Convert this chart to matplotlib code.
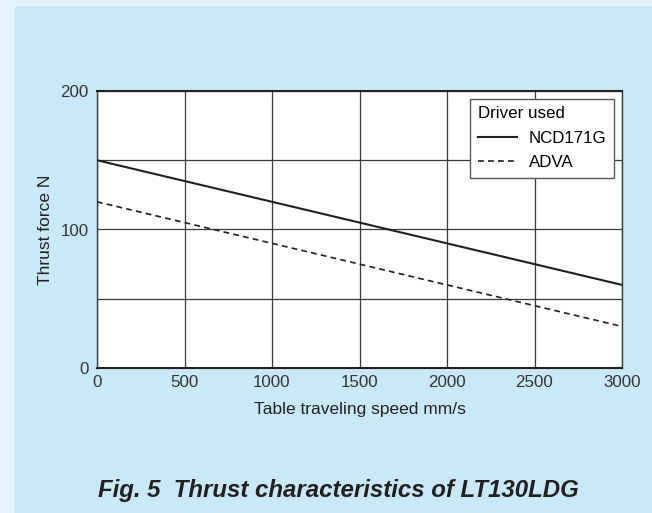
import matplotlib
matplotlib.use("Agg")
import matplotlib.pyplot as plt
from matplotlib.patches import Rectangle

plt.rcParams['font.family'] = ['Liberation Sans', 'DejaVu Sans']

speed = [0, 3000]
ncd171g = [150, 60]
adva = [120, 30]
xticks = [0, 500, 1000, 1500, 2000, 2500, 3000]
yticks = [0, 100, 200]

fig = plt.figure(figsize=(6.52, 5.13), dpi=100)
fig.patch.set_facecolor('#e2f3fb')
fig.patches.append(Rectangle((15/652, 0), 1, 1 - 6/513, transform=fig.transFigure,
                             facecolor='#c8e9f8', edgecolor='none', zorder=-10))

ax = fig.add_axes([97/652, (513-368)/513, 525/652, 277/513])
ax.set_zorder(1)
ax.set_facecolor('white')
ax.plot(speed, ncd171g, color='#231f20', lw=1.5, label='NCD171G', zorder=3)
ax.plot(speed, adva, color='#231f20', lw=1.2, ls=(0, (3.5, 2.5)), label='ADVA', zorder=3)
ax.set_xlim(0, 3000)
ax.set_ylim(0, 200)
ax.set_xticks(xticks)
ax.set_yticks(yticks)
ax.set_yticks([50, 150], minor=True)
ax.grid(True, which='both', color='#3a3a3a', lw=0.9)
ax.tick_params(which='both', length=0, labelsize=12.2, colors='#333333', pad=5)
ax.tick_params(axis='y', pad=6)
for s in ax.spines.values():
    s.set_color('#3a3a3a')
    s.set_linewidth(1.0)
ax.spines['bottom'].set_linewidth(1.5)
ax.spines['bottom'].set_color('#231f20')
ax.spines['top'].set_linewidth(1.5)
ax.spines['top'].set_color('#231f20')
ax.set_ylabel('Thrust force N', fontsize=12.5, color='#231f20', labelpad=5)
ax.set_xlabel('Table traveling speed mm/s', fontsize=12.5, color='#231f20', labelpad=9)

leg = ax.legend(title='Driver used', loc='upper right', bbox_to_anchor=(0.985, 0.972),
                fontsize=12.2, title_fontsize=12.2, alignment='left', fancybox=False,
                framealpha=1, edgecolor='#555555', handlelength=2.3, handletextpad=0.7,
                borderpad=0.45, labelspacing=0.55, borderaxespad=0)
leg.get_frame().set_linewidth(1.0)
leg.set_zorder(5)

fig.text(98/652, 1 - 490/513, 'Fig. 5  Thrust characteristics of LT130LDG', fontsize=17.3,
         fontweight='bold', fontstyle='italic', color='#231f20', va='center', ha='left')

fig.savefig('out.png', dpi=100, facecolor=fig.get_facecolor())
